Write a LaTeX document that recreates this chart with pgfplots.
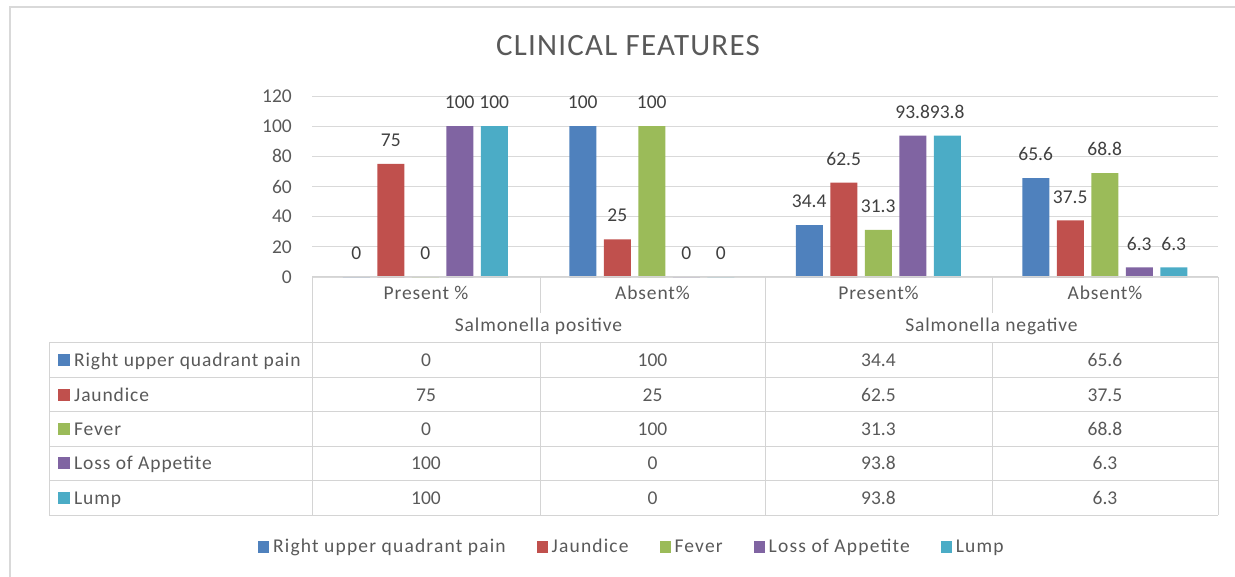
\documentclass[border=0pt]{standalone}
\usepackage{pgfplots}
\pgfplotsset{compat=1.18}
\usepackage{fontspec}
\setmainfont{Carlito}
\newfontfamily\lsfont{Carlito}[LetterSpace=4.5]
\newfontfamily\legfont{Carlito}[LetterSpace=6]
\newfontfamily\titlefont{Carlito}[LetterSpace=4]
\newcommand\bfs{\fontsize{19.5}{23}\selectfont}
\definecolor{cBlue}{HTML}{4F81BD}
\definecolor{cRed}{HTML}{C0504D}
\definecolor{cGreen}{HTML}{9BBB59}
\definecolor{cPurple}{HTML}{8064A2}
\definecolor{cCyan}{HTML}{4BACC6}
\definecolor{txt}{HTML}{595959}
\definecolor{lbl}{HTML}{404040}
\definecolor{gridc}{HTML}{D9D9D9}
\definecolor{tblc}{HTML}{D4D4D4}
\begin{document}
\begin{tikzpicture}[x=1pt,y=-1pt]
\path[use as bounding box] (0,0) rectangle (1235,577);
% outer frame
\draw[gridc, line width=1.5pt] (10,577) -- (10,7) -- (1235,7);
% title
\node[anchor=base, text=txt, font=\titlefont\fontsize{31}{36}\selectfont, inner sep=0pt] at (628,55.5) {CLINICAL FEATURES};
\begin{axis}[
  at={(312pt,-277pt)}, anchor=south west,
  scale only axis, width=906pt, height=181pt,
  xmin=-0.5, xmax=3.5, ymin=0, ymax=120,
  ytick={0,20,...,120}, xtick=\empty,
  ymajorgrids, grid style={gridc, line width=1pt},
  axis line style={draw=none}, major tick length=0pt,
  /pgf/number format/assume math mode=true,
  yticklabel style={font=\bfs, text=txt, anchor=east, inner sep=0pt, xshift=-20pt},
  ybar=7.5pt, bar width=27pt,
  nodes near coords,
  every node near coord/.append style={font=\bfs, text=lbl, anchor=south, inner sep=0pt, yshift=17pt},
  legend columns=5,
  legend style={at={(0.3525,-1.49)}, anchor=center, draw=none, fill=none,
    font=\legfont\bfs, text=txt, inner sep=0pt,
    nodes={inner sep=1pt},
    /tikz/every odd column/.append style={column sep=3pt},
    /tikz/every even column/.append style={column sep=30pt}},
  legend image code/.code={\fill[#1] (0pt,-6pt) rectangle (11pt,6pt);},
]
\addplot[fill=cBlue, draw=none] coordinates {(0,0) (1,100) (2,34.4) (3,65.6)};
\addplot[fill=cRed, draw=none] coordinates {(0,75) (1,25) (2,62.5) (3,37.5)};
\addplot[fill=cGreen, draw=none] coordinates {(0,0) (1,100) (2,31.3) (3,68.8)};
\addplot[fill=cPurple, draw=none] coordinates {(0,100) (1,0) (2,93.8) (3,6.3)};
\addplot[fill=cCyan, draw=none] coordinates {(0,100) (1,0) (2,93.8) (3,6.3)};
\legend{Right upper quadrant pain, Jaundice, Fever, Loss of Appetite, Lump}
\end{axis}
% data table
\begin{scope}[tblc, line width=1pt]
\draw (312,277) -- (1218,277);
\foreach \yy in {343,377.4,411.8,446.2,480.6,515} \draw (49,\yy) -- (1218,\yy);
\foreach \xx in {312,765,1218} \draw (\xx,277) -- (\xx,515);
\foreach \xx in {540,992} {\draw (\xx,277) -- (\xx,313); \draw (\xx,343) -- (\xx,515);}
\draw (49,343) -- (49,515);
\end{scope}
\begin{scope}[every node/.style={font=\lsfont\bfs, text=txt, inner sep=0pt, anchor=base}]
\node at (426,299.5) {Present \%};
\node at (652.5,299.5) {Absent\%};
\node at (878.5,299.5) {Present\%};
\node at (1105,299.5) {Absent\%};
\node at (538.5,331.5) {Salmonella positive};
\node at (991.5,331.5) {Salmonella negative};
\end{scope}
\begin{scope}[every node/.style={font=\bfs, text=txt, inner sep=0pt, anchor=base}]
\foreach \yc/\a/\b/\c/\d in {360.2/0/100/34.4/65.6, 394.6/75/25/62.5/37.5, 429/0/100/31.3/68.8, 463.4/100/0/93.8/6.3, 497.8/100/0/93.8/6.3}{
  \node at (426,\yc+6.5) {\a};
  \node at (652.5,\yc+6.5) {\b};
  \node at (878.5,\yc+6.5) {\c};
  \node at (1105,\yc+6.5) {\d};
}
\end{scope}
\foreach \yc/\col/\nm in {360.2/cBlue/Right upper quadrant pain, 394.6/cRed/Jaundice, 429/cGreen/Fever, 463.4/cPurple/Loss of Appetite, 497.8/cCyan/Lump}{
  \fill[\col] (58,\yc-6) rectangle (70,\yc+6);
  \node[font=\lsfont\bfs, text=txt, inner sep=0pt, anchor=base west] at (74,\yc+6.5) {\nm};
}
\end{tikzpicture}
\end{document}
